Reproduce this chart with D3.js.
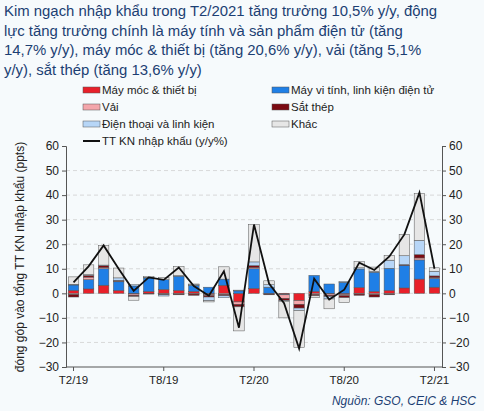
<!DOCTYPE html>
<html><head><meta charset="utf-8">
<script src="https://cdn.jsdelivr.net/npm/d3@7"></script>
<style>body{margin:0;background:#fff}svg{font-family:"Liberation Sans",Arial,sans-serif}</style>
</head><body><svg id="c" width="484" height="411"></svg>
<script>
const months=["T2/19","T3/19","T4/19","T5/19","T6/19","T7/19","T8/19","T9/19","T10/19","T11/19","T12/19","T1/20","T2/20","T3/20","T4/20","T5/20","T6/20","T7/20","T8/20","T9/20","T10/20","T11/20","T12/20","T1/21","T2/21"];
const tickLabels=["T2/19","T8/19","T2/20","T8/20","T2/21"];
const mayMoc=[1.2,1.8,3.3,1.2,-0.3,0.8,1.6,1.2,0.8,-0.5,3.3,-3.5,2,-0.3,-0.3,-3,0.8,-0.3,-0.5,2.4,0.8,1.2,2.2,5.8,2.5];
const mayTinh=[2.2,3.8,6.7,3.5,3,5.5,4,5.8,2.5,2.5,2.5,1,8,2.5,-0.3,0,6.5,3.8,4.5,7.5,7.8,9,9.2,7.8,3.6];
const vai=[-0.5,1,0.5,0.3,-0.5,0,-0.3,-0.3,-0.3,-0.5,-0.5,-1,0.5,0,-1.5,-1.5,-0.5,-0.5,-0.5,-0.3,-0.5,-0.3,0,0.8,0.3];
const satThep=[-1,0.7,0.8,0.3,-0.5,-0.3,-0.3,-0.3,-0.5,-0.5,-0.5,-1,0.8,-0.3,-0.8,-1.5,-0.5,-0.5,-0.8,-0.5,-1,-0.3,0.3,1.4,0.7];
const dienThoai=[0.3,0.3,0.2,1,0.5,0.2,-0.5,0.2,0.3,-1.5,-0.8,0.3,1.5,1,-0.3,-1,0,-1,0.3,0.5,0.3,3.3,3.6,5.8,1.9];
const khac=[3.0,4,8,4,-1.5,0.3,0.8,3.8,0.2,-0.5,5,-9.8,15.2,1.6,-6.8,-15,-0.8,-4,-2,2.5,1.8,2,8.7,19,1.4];
const tongKN=[4.5,11,19.5,10,1,6.5,5.5,10.5,3,-1,9,-14,28,4,-4,-22.5,6,-2.5,1.5,12.5,9.5,15,24,41,10];
const seriesNames=["Máy móc & thiết bị","Máy vi tính, linh kiện điện tử","Vải","Sắt thép","Điện thoại và linh kiện","Khác"];
const colors=["#e8202a","#1f7fe6","#f4a6ab","#7a0a12","#b7d6f7","#e6e6e6"];
const seriesData=[mayMoc,mayTinh,vai,satThep,dienThoai,khac];

const svg=d3.select("#c");
svg.append("rect").attr("width",484).attr("height",411).attr("fill","#f6fafc");
const title=["Kim ngạch nhập khẩu trong T2/2021 tăng trưởng 10,5% y/y, động","lực tăng trưởng chính là máy tính và sản phẩm điện tử (tăng","14,7% y/y), máy móc & thiết bị (tăng 20,6% y/y), vải (tăng 5,1%","y/y), sắt thép (tăng 13,6% y/y)"];
title.forEach((t,i)=>svg.append("text").attr("x",4).attr("y",16+i*19.5).attr("font-size",14.9).attr("fill","#1c3f73").text(t));

const x=d3.scaleBand().domain(months).range([66,442]).paddingInner(0.3).paddingOuter(0.15);
const y=d3.scaleLinear().domain([-30,60]).range([367,146]);
const g=svg.append("g");
[-20,-10,0,10,20,30,40,50].forEach(v=>g.append("line").attr("x1",66).attr("x2",442).attr("y1",y(v)).attr("y2",y(v)).attr("stroke","#d0d0d0").attr("stroke-dasharray","4,3").attr("stroke-width",0.8));

const table=months.map((m,i)=>{const o={m};seriesData.forEach((s,k)=>o[k]=s[i]);return o;});
const stack=d3.stack().keys(d3.range(6)).offset(d3.stackOffsetDiverging)(table);
stack.forEach((layer,k)=>{
  g.selectAll(null).data(layer).join("rect")
   .attr("x",d=>x(d.data.m)).attr("width",x.bandwidth())
   .attr("y",d=>y(Math.max(d[0],d[1]))).attr("height",d=>Math.abs(y(d[0])-y(d[1])))
   .attr("fill",colors[k]).attr("stroke","#555").attr("stroke-width",0.5);
});
const line=d3.line().x((d,i)=>x(months[i])+x.bandwidth()/2).y(d=>y(d));
g.append("path").datum(tongKN).attr("d",line).attr("fill","none").attr("stroke","#111").attr("stroke-width",1.8);

const yl=svg.append("g").attr("transform","translate(66,0)").call(d3.axisLeft(y).tickValues(d3.range(-30,61,10)).tickSize(4));
const yr=svg.append("g").attr("transform","translate(442,0)").call(d3.axisRight(y).tickValues(d3.range(-30,61,10)).tickSize(4));
[yl,yr].forEach(a=>{a.selectAll("text").attr("font-size",12).attr("fill","#222");a.selectAll("line,path").attr("stroke","#555");});
const xa=svg.append("g").attr("transform","translate(0,367)").call(d3.axisBottom(x).tickValues(tickLabels).tickSize(4));
xa.selectAll("text").attr("font-size",11.5).attr("fill","#222").attr("dy","0.9em");
xa.selectAll("line,path").attr("stroke","#555");
xa.select(".domain").attr("d","M66,0H442");
svg.append("text").attr("transform","translate(24,257) rotate(-90)").attr("text-anchor","middle").attr("font-size",12).attr("fill","#222").text("đóng góp vào tổng TT KN nhập khẩu (ppts)");

const leg=[[0,83,90],[1,272,90],[2,83,107],[3,272,107],[4,83,124],[5,272,124]];
leg.forEach(([k,lx,ly])=>{
  svg.append("rect").attr("x",lx).attr("y",ly-3).attr("width",17).attr("height",6).attr("fill",colors[k]).attr("stroke","#555").attr("stroke-width",0.5);
  svg.append("text").attr("x",lx+19).attr("y",ly+4).attr("font-size",11.5).attr("fill","#222").text(seriesNames[k]);
});
svg.append("line").attr("x1",83).attr("x2",100).attr("y1",141).attr("y2",141).attr("stroke","#111").attr("stroke-width",2);
svg.append("text").attr("x",102).attr("y",145).attr("font-size",11.5).attr("fill","#222").text("TT KN nhập khẩu (y/y%)");
svg.append("text").attr("x",476).attr("y",405).attr("text-anchor","end").attr("font-size",12).attr("font-style","italic").attr("fill","#1c3f73").text("Nguồn: GSO, CEIC & HSC");
</script></body></html>
